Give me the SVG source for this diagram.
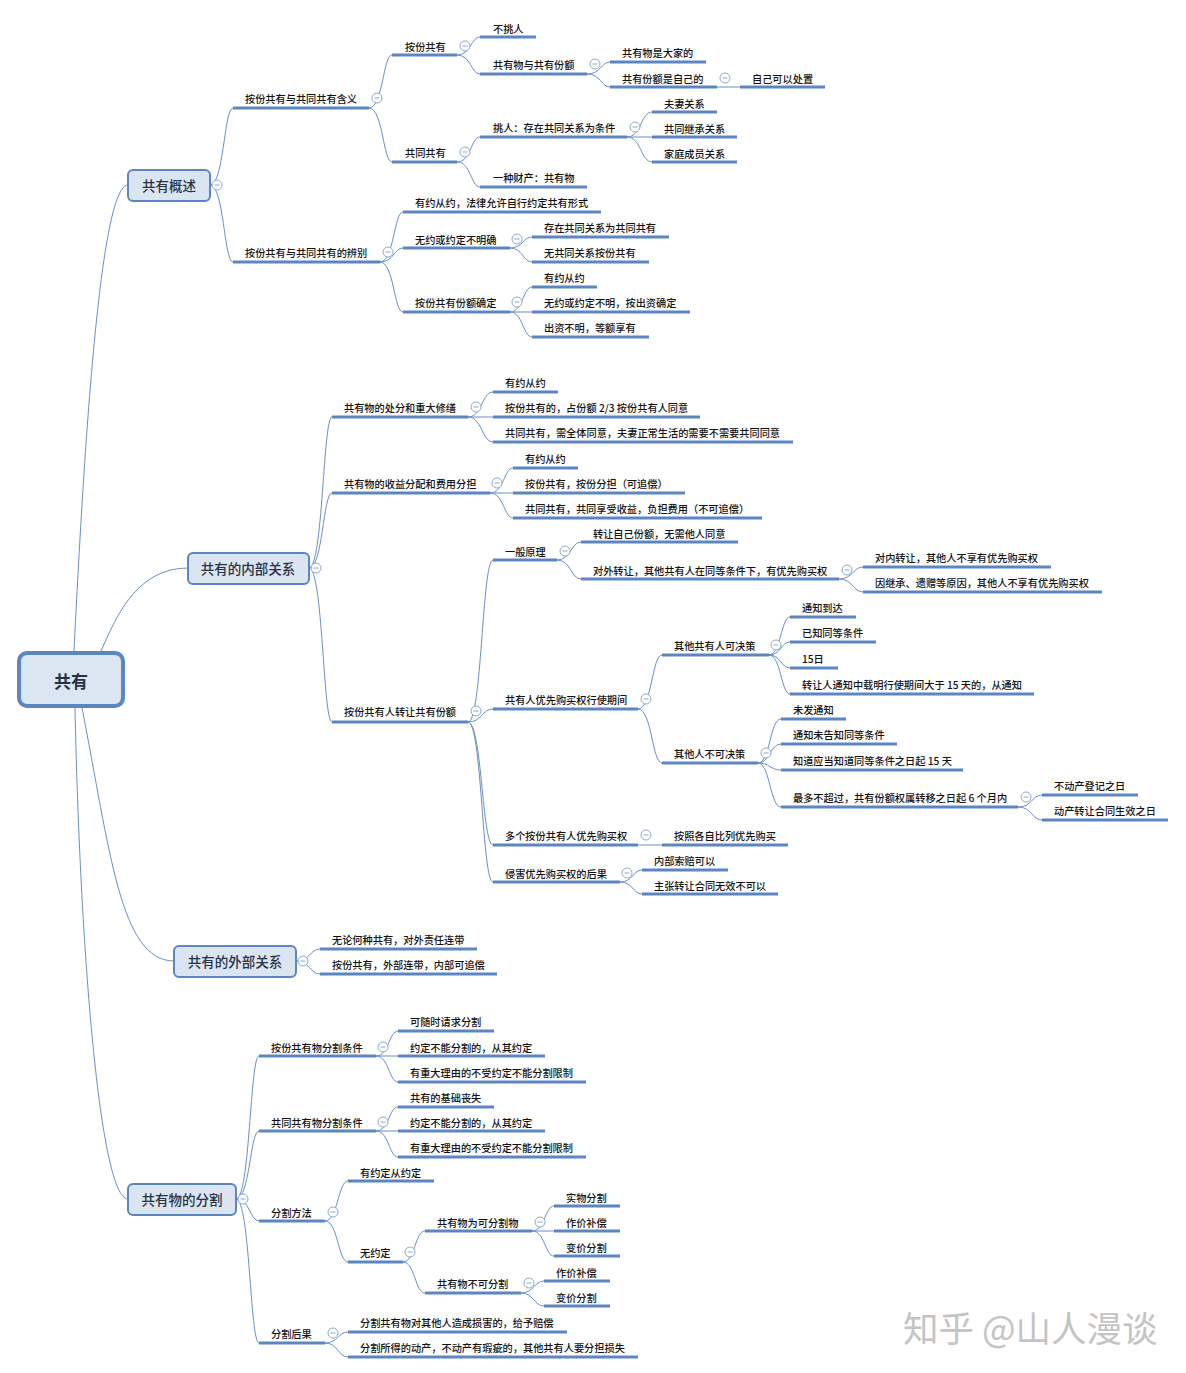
<svg xmlns="http://www.w3.org/2000/svg" xmlns:xlink="http://www.w3.org/1999/xlink" width="1186" height="1373" viewBox="0 0 1186 1373">
<style>
.t{font-family:"Noto Sans CJK SC","Noto Sans",sans-serif;font-size:10.2px;font-weight:500;fill:#111;dominant-baseline:central}
.ul{stroke:#5b86c1;stroke-width:3}
#connectors path{fill:none;stroke:#6a8fc3;stroke-width:1}
.box{fill:#dbe5f2;stroke:#5b86c1;stroke-width:2}
.bt{font-family:"Noto Sans CJK SC","Noto Sans",sans-serif;font-size:13.5px;font-weight:500;fill:#263244;text-anchor:middle;dominant-baseline:central}
.wm{font-family:"Noto Sans CJK SC","Noto Sans",sans-serif;font-size:35.5px;fill:#c4c4c4;dominant-baseline:central}
</style>
<defs>
<g id="col"><circle r="5" fill="#fff" stroke="#8ea8cd" stroke-width="1"/><line x1="-2.5" y1="0" x2="2.5" y2="0" stroke="#8ea8cd" stroke-width="1"/></g>
</defs>
<rect width="1186" height="1373" fill="#fff"/>
<g id="connectors">
<path d="M74,651 C84,450 100,185 128,185"/>
<path d="M101,651 C115,620 135,568 188,568"/>
<path d="M82,708 C110,850 120,961 174,961"/>
<path d="M75,708 C80,950 100,1199 128,1199"/>
<path d="M210,185 C224,185 224,108 233,108"/>
<path d="M210,185 C224,185 224,262 233,262"/>
<path d="M369,108 C383,108 383,55 392,55"/>
<path d="M369,108 C383,108 383,162 392,162"/>
<path d="M457,55 C471,55 471,37 480,37"/>
<path d="M457,55 C471,55 471,74 480,74"/>
<path d="M587,74 C601,74 601,62 610,62"/>
<path d="M587,74 C601,74 601,87 610,87"/>
<path d="M717,87 L740,87"/>
<path d="M457,162 C471,162 471,137 480,137"/>
<path d="M457,162 C471,162 471,187 480,187"/>
<path d="M627,137 C641,137 641,112 652,112"/>
<path d="M627,137 L652,137"/>
<path d="M627,137 C641,137 641,162 652,162"/>
<path d="M380,262 C394,262 394,212 403,212"/>
<path d="M380,262 C394,262 394,248 403,248"/>
<path d="M380,262 C394,262 394,312 403,312"/>
<path d="M510,248 C523,248 523,237 532,237"/>
<path d="M510,248 C523,248 523,262 532,262"/>
<path d="M510,312 C523,312 523,287 532,287"/>
<path d="M510,312 L532,312"/>
<path d="M510,312 C523,312 523,337 532,337"/>
<path d="M309,568 C323,568 323,417 332,417"/>
<path d="M309,568 C323,568 323,493 332,493"/>
<path d="M309,568 C323,568 323,722 332,722"/>
<path d="M468,417 C482,417 482,392 493,392"/>
<path d="M468,417 L493,417"/>
<path d="M468,417 C482,417 482,442 493,442"/>
<path d="M490,493 C504,493 504,468 513,468"/>
<path d="M490,493 L513,493"/>
<path d="M490,493 C504,493 504,518 513,518"/>
<path d="M468,722 C482,722 482,560 493,560"/>
<path d="M468,722 C482,722 482,709 493,709"/>
<path d="M468,722 C482,722 482,845 493,845"/>
<path d="M468,722 C482,722 482,882 493,882"/>
<path d="M557,560 C571,560 571,542 581,542"/>
<path d="M557,560 C571,560 571,579 581,579"/>
<path d="M839,579 C853,579 853,567 863,567"/>
<path d="M839,579 C853,579 853,592 863,592"/>
<path d="M638,709 C652,709 652,655 662,655"/>
<path d="M638,709 C652,709 652,763 662,763"/>
<path d="M769,655 C781,655 781,617 790,617"/>
<path d="M769,655 C781,655 781,642 790,642"/>
<path d="M769,655 C781,655 781,668 790,668"/>
<path d="M769,655 C781,655 781,694 790,694"/>
<path d="M758,763 C770,763 770,719 781,719"/>
<path d="M758,763 C770,763 770,744 781,744"/>
<path d="M758,763 C770,763 770,770 781,770"/>
<path d="M758,763 C770,763 770,807 781,807"/>
<path d="M1018,807 C1032,807 1032,795 1042,795"/>
<path d="M1018,807 C1032,807 1032,820 1042,820"/>
<path d="M638,845 L662,845"/>
<path d="M620,882 C633,882 633,870 642,870"/>
<path d="M620,882 C633,882 633,894 642,894"/>
<path d="M296,961 C310,961 310,949 320,949"/>
<path d="M296,961 C310,961 310,974 320,974"/>
<path d="M236,1199 C250,1199 250,1056 259,1056"/>
<path d="M236,1199 C250,1199 250,1131 259,1131"/>
<path d="M236,1199 C250,1199 250,1221 259,1221"/>
<path d="M236,1199 C250,1199 250,1343 259,1343"/>
<path d="M376,1056 C389,1056 389,1031 398,1031"/>
<path d="M376,1056 L398,1056"/>
<path d="M376,1056 C389,1056 389,1082 398,1082"/>
<path d="M376,1131 C389,1131 389,1107 398,1107"/>
<path d="M376,1131 L398,1131"/>
<path d="M376,1131 C389,1131 389,1157 398,1157"/>
<path d="M325,1221 C338,1221 338,1181 348,1181"/>
<path d="M325,1221 C338,1221 338,1262 348,1262"/>
<path d="M403,1262 C415,1262 415,1231 425,1231"/>
<path d="M403,1262 C415,1262 415,1293 425,1293"/>
<path d="M532,1231 C545,1231 545,1206 554,1206"/>
<path d="M532,1231 L554,1231"/>
<path d="M532,1231 C545,1231 545,1256 554,1256"/>
<path d="M521,1293 C534,1293 534,1281 544,1281"/>
<path d="M521,1293 C534,1293 534,1306 544,1306"/>
<path d="M325,1343 C338,1343 338,1332 348,1332"/>
<path d="M325,1343 C338,1343 338,1357 348,1357"/>
</g>

<g id="n-root"><rect x="19" y="653" width="104" height="53" rx="8" fill="#dce6f3" stroke="#5b86c1" stroke-width="4"/><text class="bt" x="71" y="680" style="font-size:17px;font-weight:bold">共有</text></g>

<g id="n-gaishu"><rect class="box" x="128" y="170" width="82" height="31" rx="5"/><text class="bt" x="169" y="185">共有概述</text><use href="#col" x="217" y="185"/></g>
<g id="n-neibu"><rect class="box" x="188" y="553" width="121" height="31" rx="5"/><text class="bt" x="248" y="568">共有的内部关系</text><use href="#col" x="316" y="568"/></g>
<g id="n-waibu"><rect class="box" x="174" y="946" width="122" height="31" rx="5"/><text class="bt" x="235" y="961">共有的外部关系</text><use href="#col" x="303" y="961"/></g>
<g id="n-fenge"><rect class="box" x="128" y="1184" width="108" height="31" rx="5"/><text class="bt" x="182" y="1199">共有物的分割</text><use href="#col" x="243" y="1199"/></g>

<g id="n1"><line class="ul" x1="233" x2="369" y1="108" y2="108"/><text class="t" x="245" y="98">按份共有与共同共有含义</text><use href="#col" x="377" y="98"/></g>
<g id="n2"><line class="ul" x1="392" x2="457" y1="55" y2="55"/><text class="t" x="405" y="46">按份共有</text><use href="#col" x="465" y="46"/></g>
<g id="n3"><line class="ul" x1="480" x2="536" y1="37" y2="37"/><text class="t" x="493" y="28">不挑人</text></g>
<g id="n4"><line class="ul" x1="480" x2="587" y1="74" y2="74"/><text class="t" x="493" y="64">共有物与共有份额</text><use href="#col" x="595" y="64"/></g>
<g id="n5"><line class="ul" x1="610" x2="706" y1="62" y2="62"/><text class="t" x="622" y="52">共有物是大家的</text></g>
<g id="n6"><line class="ul" x1="610" x2="717" y1="87" y2="87"/><text class="t" x="622" y="78">共有份额是自己的</text><use href="#col" x="725" y="78"/></g>
<g id="n7"><line class="ul" x1="740" x2="825" y1="87" y2="87"/><text class="t" x="752" y="78">自己可以处置</text></g>
<g id="n8"><line class="ul" x1="392" x2="457" y1="162" y2="162"/><text class="t" x="405" y="152">共同共有</text><use href="#col" x="465" y="152"/></g>
<g id="n9"><line class="ul" x1="480" x2="627" y1="137" y2="137"/><text class="t" x="493" y="127">挑人：存在共同关系为条件</text><use href="#col" x="635" y="127"/></g>
<g id="n10"><line class="ul" x1="652" x2="717" y1="112" y2="112"/><text class="t" x="664" y="103">夫妻关系</text></g>
<g id="n11"><line class="ul" x1="652" x2="737" y1="137" y2="137"/><text class="t" x="664" y="128">共同继承关系</text></g>
<g id="n12"><line class="ul" x1="652" x2="737" y1="162" y2="162"/><text class="t" x="664" y="153">家庭成员关系</text></g>
<g id="n13"><line class="ul" x1="480" x2="587" y1="187" y2="187"/><text class="t" x="493" y="177">一种财产：共有物</text></g>
<g id="n14"><line class="ul" x1="233" x2="380" y1="262" y2="262"/><text class="t" x="245" y="252">按份共有与共同共有的辨别</text><use href="#col" x="388" y="252"/></g>
<g id="n15"><line class="ul" x1="403" x2="601" y1="212" y2="212"/><text class="t" x="415" y="202">有约从约，法律允许自行约定共有形式</text></g>
<g id="n16"><line class="ul" x1="403" x2="510" y1="248" y2="248"/><text class="t" x="415" y="239">无约或约定不明确</text><use href="#col" x="517" y="239"/></g>
<g id="n17"><line class="ul" x1="532" x2="669" y1="237" y2="237"/><text class="t" x="544" y="227">存在共同关系为共同共有</text></g>
<g id="n18"><line class="ul" x1="532" x2="649" y1="262" y2="262"/><text class="t" x="544" y="252">无共同关系按份共有</text></g>
<g id="n19"><line class="ul" x1="403" x2="510" y1="312" y2="312"/><text class="t" x="415" y="302">按份共有份额确定</text><use href="#col" x="517" y="302"/></g>
<g id="n20"><line class="ul" x1="532" x2="597" y1="287" y2="287"/><text class="t" x="544" y="277">有约从约</text></g>
<g id="n21"><line class="ul" x1="532" x2="690" y1="312" y2="312"/><text class="t" x="544" y="302">无约或约定不明，按出资确定</text></g>
<g id="n22"><line class="ul" x1="532" x2="649" y1="337" y2="337"/><text class="t" x="544" y="327">出资不明，等额享有</text></g>

<g id="n23"><line class="ul" x1="332" x2="468" y1="417" y2="417"/><text class="t" x="344" y="407">共有物的处分和重大修缮</text><use href="#col" x="476" y="407"/></g>
<g id="n24"><line class="ul" x1="493" x2="558" y1="392" y2="392"/><text class="t" x="505" y="382">有约从约</text></g>
<g id="n25"><line class="ul" x1="493" x2="700" y1="417" y2="417"/><text class="t" x="505" y="407">按份共有的，占份额 2/3 按份共有人同意</text></g>
<g id="n26"><line class="ul" x1="493" x2="793" y1="442" y2="442"/><text class="t" x="505" y="432">共同共有，需全体同意，夫妻正常生活的需要不需要共同同意</text></g>
<g id="n27"><line class="ul" x1="332" x2="490" y1="493" y2="493"/><text class="t" x="344" y="483">共有物的收益分配和费用分担</text><use href="#col" x="497" y="483"/></g>
<g id="n28"><line class="ul" x1="513" x2="578" y1="468" y2="468"/><text class="t" x="525" y="458">有约从约</text></g>
<g id="n29"><line class="ul" x1="513" x2="685" y1="493" y2="493"/><text class="t" x="525" y="483">按份共有，按份分担（可追偿）</text></g>
<g id="n30"><line class="ul" x1="513" x2="762" y1="518" y2="518"/><text class="t" x="525" y="508">共同共有，共同享受收益，负担费用（不可追偿）</text></g>
<g id="n31"><line class="ul" x1="332" x2="468" y1="722" y2="722"/><text class="t" x="344" y="711">按份共有人转让共有份额</text><use href="#col" x="476" y="711"/></g>
<g id="n32"><line class="ul" x1="493" x2="557" y1="560" y2="560"/><text class="t" x="505" y="551">一般原理</text><use href="#col" x="565" y="551"/></g>
<g id="n33"><line class="ul" x1="581" x2="738" y1="542" y2="542"/><text class="t" x="593" y="533">转让自己份额，无需他人同意</text></g>
<g id="n34"><line class="ul" x1="581" x2="839" y1="579" y2="579"/><text class="t" x="593" y="570">对外转让，其他共有人在同等条件下，有优先购买权</text><use href="#col" x="847" y="570"/></g>
<g id="n35"><line class="ul" x1="863" x2="1051" y1="567" y2="567"/><text class="t" x="875" y="557">对内转让，其他人不享有优先购买权</text></g>
<g id="n36"><line class="ul" x1="863" x2="1102" y1="592" y2="592"/><text class="t" x="875" y="582">因继承、遗赠等原因，其他人不享有优先购买权</text></g>
<g id="n37"><line class="ul" x1="493" x2="638" y1="709" y2="709"/><text class="t" x="505" y="699">共有人优先购买权行使期间</text><use href="#col" x="646" y="699"/></g>
<g id="n38"><line class="ul" x1="662" x2="769" y1="655" y2="655"/><text class="t" x="674" y="645">其他共有人可决策</text><use href="#col" x="776" y="645"/></g>
<g id="n39"><line class="ul" x1="790" x2="856" y1="617" y2="617"/><text class="t" x="802" y="607">通知到达</text></g>
<g id="n40"><line class="ul" x1="790" x2="876" y1="642" y2="642"/><text class="t" x="802" y="632">已知同等条件</text></g>
<g id="n41"><line class="ul" x1="790" x2="838" y1="668" y2="668"/><text class="t" x="802" y="658">15日</text></g>
<g id="n42"><line class="ul" x1="790" x2="1034" y1="694" y2="694"/><text class="t" x="802" y="684">转让人通知中载明行使期间大于 15 天的，从通知</text></g>
<g id="n43"><line class="ul" x1="662" x2="758" y1="763" y2="763"/><text class="t" x="674" y="753">其他人不可决策</text><use href="#col" x="766" y="753"/></g>
<g id="n44"><line class="ul" x1="781" x2="846" y1="719" y2="719"/><text class="t" x="793" y="709">未发通知</text></g>
<g id="n45"><line class="ul" x1="781" x2="897" y1="744" y2="744"/><text class="t" x="793" y="734">通知未告知同等条件</text></g>
<g id="n46"><line class="ul" x1="781" x2="963" y1="770" y2="770"/><text class="t" x="793" y="760">知道应当知道同等条件之日起 15 天</text></g>
<g id="n47"><line class="ul" x1="781" x2="1018" y1="807" y2="807"/><text class="t" x="793" y="797">最多不超过，共有份额权属转移之日起 6 个月内</text><use href="#col" x="1026" y="797"/></g>
<g id="n48"><line class="ul" x1="1042" x2="1138" y1="795" y2="795"/><text class="t" x="1054" y="785">不动产登记之日</text></g>
<g id="n49"><line class="ul" x1="1042" x2="1168" y1="820" y2="820"/><text class="t" x="1054" y="810">动产转让合同生效之日</text></g>
<g id="n50"><line class="ul" x1="493" x2="638" y1="845" y2="845"/><text class="t" x="505" y="835">多个按份共有人优先购买权</text><use href="#col" x="646" y="835"/></g>
<g id="n51"><line class="ul" x1="662" x2="788" y1="845" y2="845"/><text class="t" x="674" y="835">按照各自比列优先购买</text></g>
<g id="n52"><line class="ul" x1="493" x2="620" y1="882" y2="882"/><text class="t" x="505" y="873">侵害优先购买权的后果</text><use href="#col" x="627" y="873"/></g>
<g id="n53"><line class="ul" x1="642" x2="728" y1="870" y2="870"/><text class="t" x="654" y="860">内部索赔可以</text></g>
<g id="n54"><line class="ul" x1="642" x2="778" y1="894" y2="894"/><text class="t" x="654" y="885">主张转让合同无效不可以</text></g>

<g id="n55"><line class="ul" x1="320" x2="477" y1="949" y2="949"/><text class="t" x="332" y="939">无论何种共有，对外责任连带</text></g>
<g id="n56"><line class="ul" x1="320" x2="497" y1="974" y2="974"/><text class="t" x="332" y="964">按份共有，外部连带，内部可追偿</text></g>

<g id="n57"><line class="ul" x1="259" x2="376" y1="1056" y2="1056"/><text class="t" x="271" y="1047">按份共有物分割条件</text><use href="#col" x="383" y="1047"/></g>
<g id="n58"><line class="ul" x1="398" x2="494" y1="1031" y2="1031"/><text class="t" x="410" y="1021">可随时请求分割</text></g>
<g id="n59"><line class="ul" x1="398" x2="545" y1="1056" y2="1056"/><text class="t" x="410" y="1047">约定不能分割的，从其约定</text></g>
<g id="n60"><line class="ul" x1="398" x2="586" y1="1082" y2="1082"/><text class="t" x="410" y="1072">有重大理由的不受约定不能分割限制</text></g>
<g id="n61"><line class="ul" x1="259" x2="376" y1="1131" y2="1131"/><text class="t" x="271" y="1122">共同共有物分割条件</text><use href="#col" x="383" y="1122"/></g>
<g id="n62"><line class="ul" x1="398" x2="494" y1="1107" y2="1107"/><text class="t" x="410" y="1097">共有的基础丧失</text></g>
<g id="n63"><line class="ul" x1="398" x2="545" y1="1131" y2="1131"/><text class="t" x="410" y="1122">约定不能分割的，从其约定</text></g>
<g id="n64"><line class="ul" x1="398" x2="586" y1="1157" y2="1157"/><text class="t" x="410" y="1147">有重大理由的不受约定不能分割限制</text></g>
<g id="n65"><line class="ul" x1="259" x2="325" y1="1221" y2="1221"/><text class="t" x="271" y="1212">分割方法</text><use href="#col" x="333" y="1212"/></g>
<g id="n66"><line class="ul" x1="348" x2="434" y1="1181" y2="1181"/><text class="t" x="360" y="1172">有约定从约定</text></g>
<g id="n67"><line class="ul" x1="348" x2="403" y1="1262" y2="1262"/><text class="t" x="360" y="1252">无约定</text><use href="#col" x="410" y="1252"/></g>
<g id="n68"><line class="ul" x1="425" x2="532" y1="1231" y2="1231"/><text class="t" x="437" y="1222">共有物为可分割物</text><use href="#col" x="540" y="1222"/></g>
<g id="n69"><line class="ul" x1="554" x2="620" y1="1206" y2="1206"/><text class="t" x="566" y="1197">实物分割</text></g>
<g id="n70"><line class="ul" x1="554" x2="620" y1="1231" y2="1231"/><text class="t" x="566" y="1222">作价补偿</text></g>
<g id="n71"><line class="ul" x1="554" x2="620" y1="1256" y2="1256"/><text class="t" x="566" y="1247">变价分割</text></g>
<g id="n72"><line class="ul" x1="425" x2="521" y1="1293" y2="1293"/><text class="t" x="437" y="1283">共有物不可分割</text><use href="#col" x="529" y="1283"/></g>
<g id="n73"><line class="ul" x1="544" x2="610" y1="1281" y2="1281"/><text class="t" x="556" y="1272">作价补偿</text></g>
<g id="n74"><line class="ul" x1="544" x2="610" y1="1306" y2="1306"/><text class="t" x="556" y="1297">变价分割</text></g>
<g id="n75"><line class="ul" x1="259" x2="325" y1="1343" y2="1343"/><text class="t" x="271" y="1333">分割后果</text><use href="#col" x="333" y="1333"/></g>
<g id="n76"><line class="ul" x1="348" x2="567" y1="1332" y2="1332"/><text class="t" x="360" y="1322">分割共有物对其他人造成损害的，给予赔偿</text></g>
<g id="n77"><line class="ul" x1="348" x2="638" y1="1357" y2="1357"/><text class="t" x="360" y="1347">分割所得的动产，不动产有瑕疵的，其他共有人要分担损失</text></g>

<text class="wm" x="903" y="1326">知乎 @山人漫谈</text>
</svg>
